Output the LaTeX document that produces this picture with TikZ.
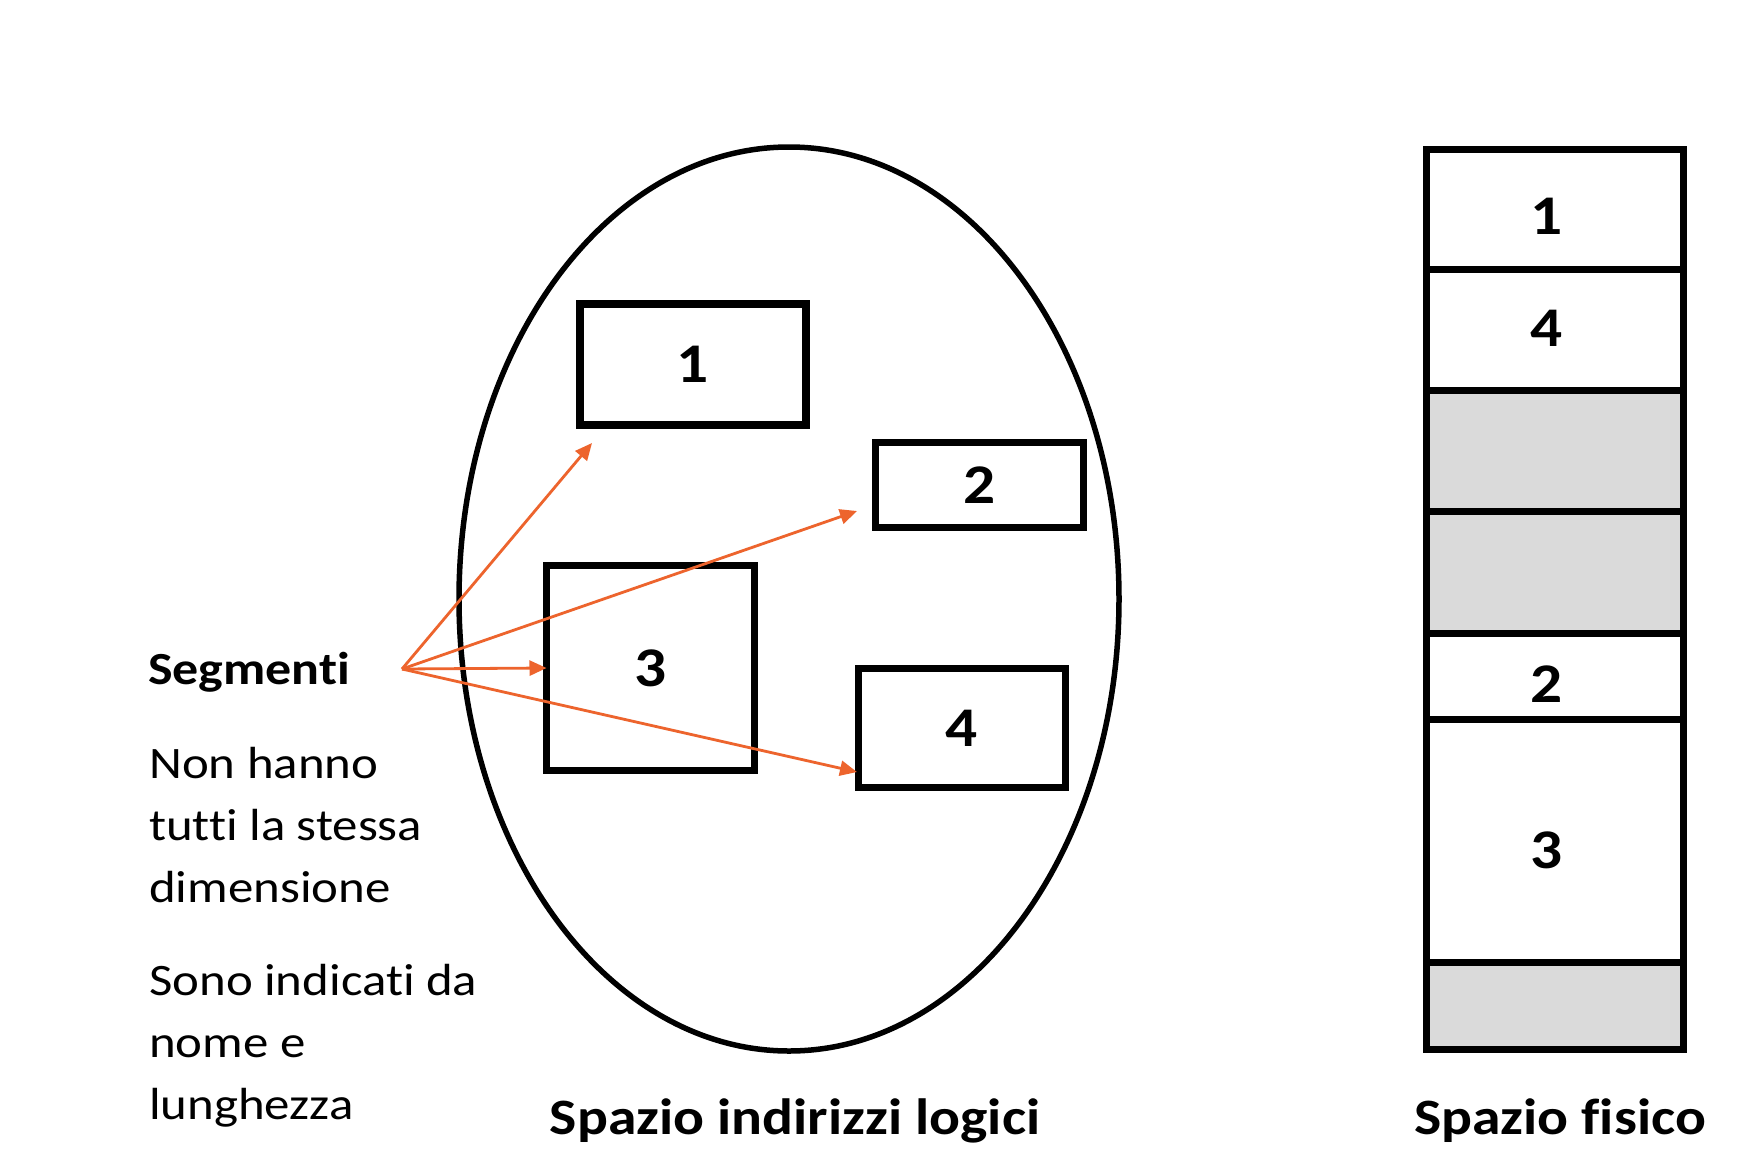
\documentclass[tikz,border=0pt]{standalone}
\usepackage{fontspec}
\setmainfont{Carlito}[FakeStretch=1.13, Ligatures=NoCommon]
\usetikzlibrary{arrows.meta,shapes.geometric}
\definecolor{arrowc}{RGB}{237,100,45}
\definecolor{freec}{RGB}{218,218,218}
\begin{document}
\begin{tikzpicture}[x=1pt,y=-1pt,
  segbox/.style={draw, line width=7.5pt, inner sep=0pt, outer sep=0pt, font=\fontsize{56}{60}\selectfont\bfseries},
  cell/.style={draw, line width=7pt, inner sep=0pt, outer sep=0pt, minimum width=257pt},
  freecell/.style={cell, fill=freec},
  body/.style={anchor=base west, inner sep=0pt, font=\fontsize{45}{54}\selectfont},
  title/.style={anchor=base, inner sep=0pt, font=\fontsize{51}{60}\selectfont\bfseries},
  digit/.style={inner sep=0pt, font=\fontsize{56}{60}\selectfont\bfseries},
  ptr/.style={draw=arrowc, line width=2.8pt, -{Triangle[length=17pt,width=15pt]}}]
\fill[white] (0,0) rectangle (1750,1170);
\useasboundingbox (0,0) rectangle (1750,1170);

% logical address space
\node[ellipse, draw, line width=5.5pt, inner sep=0pt, minimum width=660pt, minimum height=904pt] (space) at (789,599) {};
\node[segbox, minimum width=226pt, minimum height=121pt] (b1) at (693,364.5) {1};
\node[segbox, minimum width=208pt, minimum height=85pt] (b2) at (979.5,485) {2};
\node[segbox, minimum width=208pt, minimum height=205pt] (b3) at (650.5,668) {3};
\node[segbox, minimum width=207pt, minimum height=119pt] (b4) at (962,728) {4};

% left text
\node[body, font=\fontsize{46}{54}\selectfont\bfseries] (seg) at (148,684) {Segmenti};
\node[body] (t1) at (149,778) {Non hanno};
\node[body] (t2) at (149,840) {tutti la stessa};
\node[body] (t3) at (149,902) {dimensione};
\node[body] (t4) at (149,995) {Sono indicati da};
\node[body] (t5) at (149,1057) {nome e};
\node[body] (t6) at (149,1119) {lunghezza};

% arrows
\coordinate (src) at (402,669);
\coordinate (e1) at (592,443);
\coordinate (e2) at (857,511);
\coordinate (e4) at (857,772);
\draw[ptr] (src) -- (e1);
\draw[ptr] (src) -- (e2);
\draw[ptr] (src) -- (b3.west);
\draw[ptr] (src) -- (e4);

% physical space
\node[cell, minimum height=120pt] (c1) at (1555,209) {};
\node[cell, minimum height=121pt] (c2) at (1555,329.5) {};
\node[freecell, minimum height=121pt] (c3) at (1555,450.5) {};
\node[freecell, minimum height=122pt] (c4) at (1555,572) {};
\node[cell, minimum height=86pt] (c5) at (1555,676) {};
\node[cell, minimum height=243pt] (c6) at (1555,840.5) {};
\node[freecell, minimum height=87pt] (c7) at (1555,1005.5) {};
\node[digit] (d1) at (1547,216) {1};
\node[digit] (d4) at (1547,328) {4};
\node[digit] (d2) at (1547,684) {2};
\node[digit] (d3) at (1547,850) {3};

% titles
\node[title] (lt) at (795,1134) {Spazio indirizzi logici};
\node[title] (pt) at (1560,1134) {Spazio fisico};
\end{tikzpicture}
\end{document}
